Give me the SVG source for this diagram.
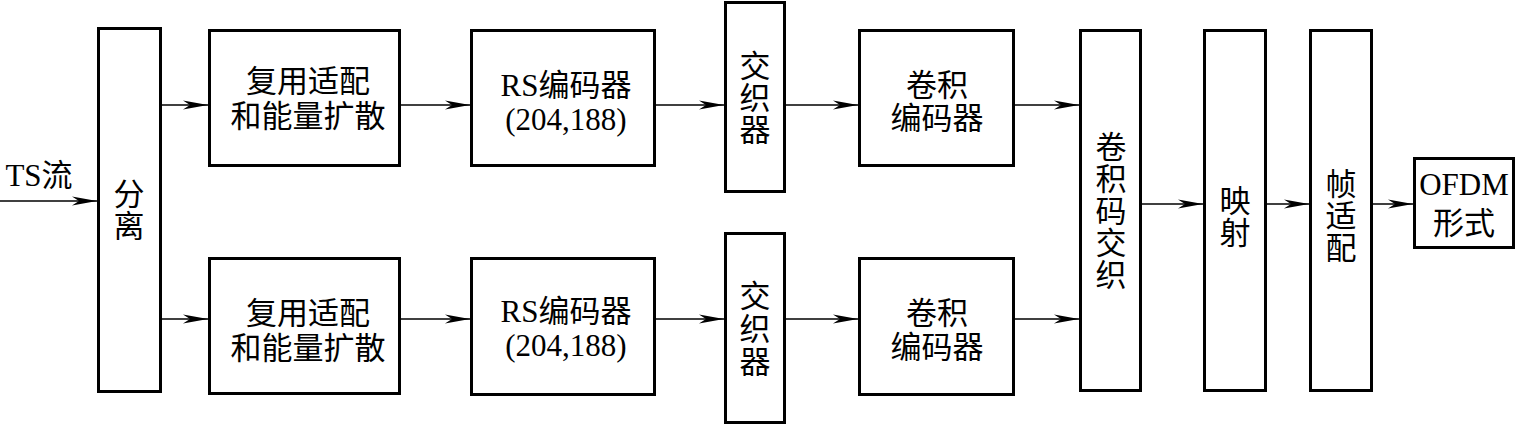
<svg xmlns="http://www.w3.org/2000/svg" width="1517" height="425" viewBox="0 0 1517 425">
<style>
.box{fill:#fff;stroke:#000;stroke-width:3}
.ln{fill:none;stroke:#000;stroke-width:1.4;marker-end:url(#ah)}
text{font-family:"Liberation Serif","Noto Sans CJK SC",serif;font-size:31px;fill:#000;text-anchor:middle}
.lat{font-size:31px}
</style>
<defs>
<marker id="ah" markerUnits="userSpaceOnUse" markerWidth="26" markerHeight="10" refX="25" refY="5" orient="auto">
<path d="M0,0.5 L25,5 L0,9.5 L7,5 Z" fill="#000"/>
</marker>
</defs>
<rect width="1517" height="425" fill="#fff"/>
<g id="connectors">
<line class="ln" x1="0" y1="201" x2="97" y2="201"/>
<line class="ln" x1="162" y1="105" x2="208" y2="105"/>
<line class="ln" x1="162" y1="319" x2="208" y2="319"/>
<line class="ln" x1="401" y1="105" x2="470" y2="105"/>
<line class="ln" x1="401" y1="319" x2="470" y2="319"/>
<line class="ln" x1="656" y1="105" x2="724" y2="105"/>
<line class="ln" x1="656" y1="319" x2="724" y2="319"/>
<line class="ln" x1="786" y1="105" x2="858" y2="105"/>
<line class="ln" x1="786" y1="319" x2="858" y2="319"/>
<line class="ln" x1="1015" y1="105" x2="1079" y2="105"/>
<line class="ln" x1="1015" y1="319" x2="1079" y2="319"/>
<line class="ln" x1="1142" y1="204" x2="1203" y2="204"/>
<line class="ln" x1="1267" y1="204" x2="1309" y2="204"/>
<line class="ln" x1="1373" y1="204" x2="1413" y2="204"/>
</g>
<g id="ts-label"><text x="39" y="186" class="lat">TS流</text></g>
<g id="split">
<rect class="box" x="98.5" y="28.5" width="62" height="363"/>
<text x="129" y="205">分</text><text x="129" y="237">离</text>
</g>
<g id="mux1">
<rect class="box" x="209.5" y="30.5" width="190" height="135"/>
<text x="308" y="92">复用适配</text><text x="308" y="127">和能量扩散</text>
</g>
<g id="mux2">
<rect class="box" x="209.5" y="258.5" width="190" height="135"/>
<text x="308" y="324">复用适配</text><text x="308" y="359">和能量扩散</text>
</g>
<g id="rs1">
<rect class="box" x="471.5" y="30.5" width="183" height="135"/>
<text x="566" y="96" class="lat">RS编码器</text><text x="566" y="130" class="lat">(204,188)</text>
</g>
<g id="rs2">
<rect class="box" x="471.5" y="258.5" width="183" height="136"/>
<text x="566" y="322" class="lat">RS编码器</text><text x="566" y="356" class="lat">(204,188)</text>
</g>
<g id="il1">
<rect class="box" x="725.5" y="2.5" width="59" height="189"/>
<text x="755" y="77">交</text><text x="755" y="109">织</text><text x="755" y="141">器</text>
</g>
<g id="il2">
<rect class="box" x="725.5" y="233.5" width="59" height="189"/>
<text x="755" y="307">交</text><text x="755" y="340">织</text><text x="755" y="373">器</text>
</g>
<g id="cc1">
<rect class="box" x="859.5" y="30.5" width="154" height="135"/>
<text x="937" y="96">卷积</text><text x="937" y="129">编码器</text>
</g>
<g id="cc2">
<rect class="box" x="859.5" y="258.5" width="154" height="136"/>
<text x="937" y="324">卷积</text><text x="937" y="358">编码器</text>
</g>
<g id="cil">
<rect class="box" x="1080.5" y="30.5" width="60" height="360"/>
<text x="1111" y="158">卷</text><text x="1111" y="190">积</text><text x="1111" y="222">码</text><text x="1111" y="254">交</text><text x="1111" y="286">织</text>
</g>
<g id="map">
<rect class="box" x="1204.5" y="30.5" width="61" height="360"/>
<text x="1235" y="212">映</text><text x="1235" y="244">射</text>
</g>
<g id="frame">
<rect class="box" x="1310.5" y="30.5" width="61" height="360"/>
<text x="1341" y="195">帧</text><text x="1341" y="227">适</text><text x="1341" y="259">配</text>
</g>
<g id="ofdm">
<rect class="box" x="1414.5" y="158.5" width="99" height="89"/>
<text x="1464" y="195" class="lat">OFDM</text><text x="1464" y="234">形式</text>
</g>
</svg>
